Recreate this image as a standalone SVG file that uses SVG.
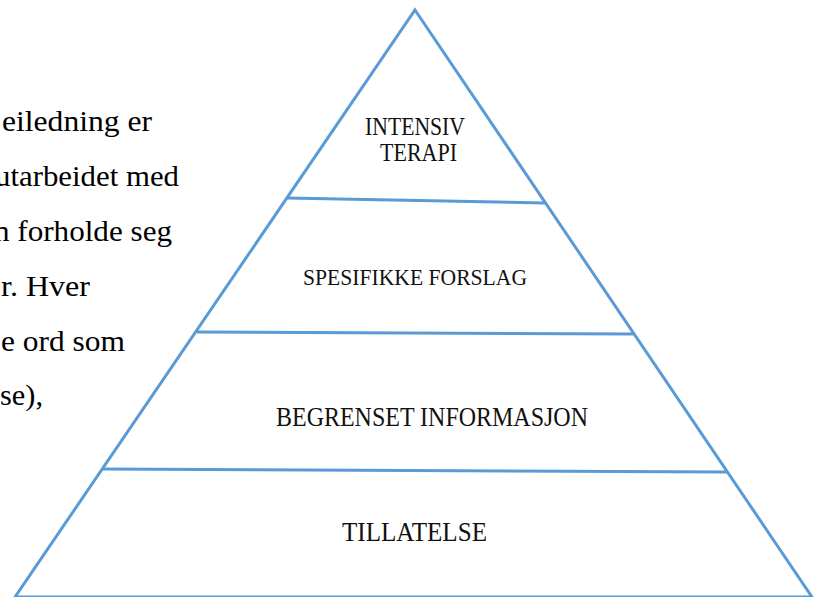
<svg xmlns="http://www.w3.org/2000/svg" width="821" height="597" viewBox="0 0 821 597">
<style>
.edge{fill:none;stroke:#5b9bd5;stroke-width:3;stroke-linejoin:miter}
.serif{font-family:"Liberation Serif","DejaVu Serif",serif}
.lbl{fill:#111}
.para{font-size:28.5px;fill:#000}
</style>
<rect width="821" height="597" fill="#fff"/>
<g id="left-text" class="serif" font-family="Liberation Serif, DejaVu Serif, serif">
<text class="para" x="2" y="131" textLength="150" lengthAdjust="spacingAndGlyphs">eiledning er</text>
<text class="para" x="-5" y="186" textLength="184" lengthAdjust="spacingAndGlyphs">utarbeidet med</text>
<text class="para" x="-6" y="241" textLength="178" lengthAdjust="spacingAndGlyphs">n forholde seg</text>
<text class="para" x="1" y="296" textLength="89" lengthAdjust="spacingAndGlyphs">r. Hver</text>
<text class="para" x="1" y="351" textLength="124" lengthAdjust="spacingAndGlyphs">e ord som</text>
<text class="para" x="0" y="405" textLength="43" lengthAdjust="spacingAndGlyphs">se),</text>
</g>
<g id="pyramid">
<polygon class="edge" points="415,10 812,597 15,597"/>
</g>
<g id="dividers">
<line class="edge" x1="287" y1="198" x2="545" y2="203"/>
<line class="edge" x1="197" y1="332" x2="633" y2="334"/>
<line class="edge" x1="102" y1="469" x2="727" y2="472"/>
</g>
<g id="level-intensiv" class="serif" font-family="Liberation Serif, DejaVu Serif, serif">
<text class="lbl" font-size="25" x="365" y="135" textLength="100" lengthAdjust="spacingAndGlyphs">INTENSIV</text>
<text class="lbl" font-size="25" x="380" y="161" textLength="77" lengthAdjust="spacingAndGlyphs">TERAPI</text>
</g>
<g id="level-spesifikke" class="serif" font-family="Liberation Serif, DejaVu Serif, serif">
<text class="lbl" font-size="24" x="303" y="285" textLength="224" lengthAdjust="spacingAndGlyphs">SPESIFIKKE FORSLAG</text>
</g>
<g id="level-begrenset" class="serif" font-family="Liberation Serif, DejaVu Serif, serif">
<text class="lbl" font-size="26.5" x="276" y="426" textLength="312" lengthAdjust="spacingAndGlyphs">BEGRENSET INFORMASJON</text>
</g>
<g id="level-tillatelse" class="serif" font-family="Liberation Serif, DejaVu Serif, serif">
<text class="lbl" font-size="26.5" x="342" y="541" textLength="145" lengthAdjust="spacingAndGlyphs">TILLATELSE</text>
</g>
</svg>
